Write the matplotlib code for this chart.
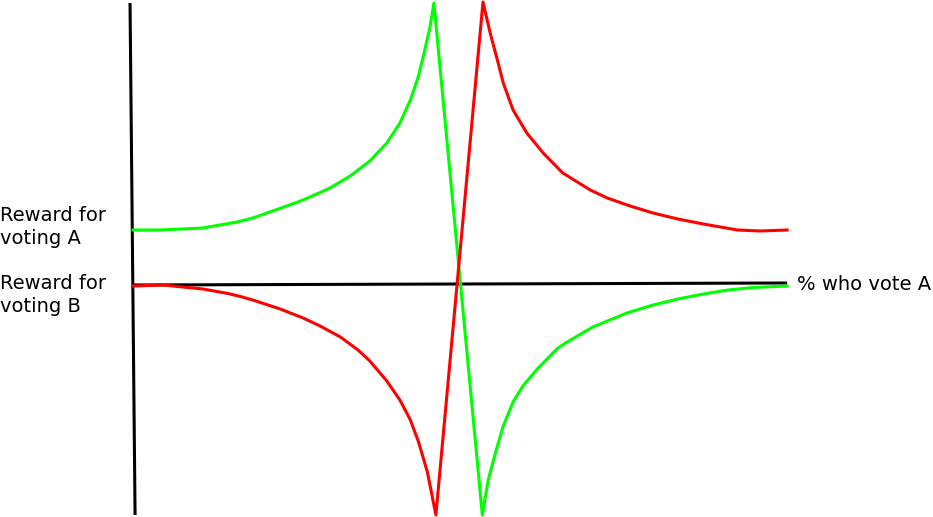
import numpy as np
import matplotlib
matplotlib.use("Agg")
import matplotlib.pyplot as plt

# % who vote A (x) and reward (y, arbitrary units)
green_x = [0, 4.1, 7.5, 10.7, 13.3, 15.9, 18.3, 20.9, 23.5, 26.0, 28.1, 30.1, 33.2, 36.2, 38.8,
           40.8, 42.4, 43.6, 44.6, 45.4, 46.0,
           53.4, 54.3, 55.4, 56.6, 58.1, 59.6, 61.8, 64.8, 66.1, 70.3, 75.5, 79.5, 83.3,
           87.2, 91.0, 94.8, 100]
green_y = [0.55, 0.55, 0.56, 0.57, 0.60, 0.63, 0.67, 0.73, 0.79, 0.85, 0.91, 0.97, 1.09, 1.24, 1.42,
           1.62, 1.85, 2.08, 2.35, 2.58, 2.82,
           -2.30, -1.95, -1.68, -1.41, -1.17, -1.01, -0.84, -0.64, -0.58, -0.42, -0.28, -0.20, -0.14,
           -0.09, -0.05, -0.025, -0.01]

red_x = [0, 4.6, 7.6, 10.7, 14.5, 16.4, 18.3, 22.5, 26.0, 28.6, 31.7, 34.4, 36.2, 38.8, 40.8, 42.4, 43.6,
         45.0, 46.3,
         53.5, 54.6, 55.7, 56.6, 58.1, 60.2, 62.7, 65.7, 69.9, 72.5, 76.0, 79.5, 83.3,
         87.2, 92.4, 95.9, 100]
red_y = [-0.01, 0.0, -0.02, -0.04, -0.085, -0.115, -0.15, -0.24, -0.33, -0.41, -0.52, -0.65, -0.76, -0.96, -1.15, -1.35, -1.56,
         -1.87, -2.30,
         2.83, 2.52, 2.25, 2.02, 1.75, 1.52, 1.32, 1.12, 0.95, 0.87, 0.79, 0.72, 0.66,
         0.61, 0.55, 0.54, 0.55]

# hand drawn axes
yaxis_x = [-0.46, 0.31]
yaxis_y = [2.82, -2.30]
xaxis_x = [0, 100]
xaxis_y = [0.0, 0.02]

fig = plt.figure(figsize=(9.33, 5.17), dpi=100)
ax = fig.add_axes([0, 0, 1, 1])
ax.set_xlim(-20.34, 122.3)
ax.set_ylim(-2.32, 2.85)
ax.axis('off')

# axes lines
ax.plot(yaxis_x, yaxis_y, color='black', lw=2.2, solid_capstyle='butt')
ax.plot(xaxis_x, xaxis_y, color='black', lw=2.2, solid_capstyle='butt')

# the two reward curves
ax.plot(green_x, green_y, color='#00ff00', lw=2.2, solid_joinstyle='round')
ax.plot(red_x, red_y, color='#ff0000', lw=2.2, solid_joinstyle='round')

# labels
ax.text(-20.3, 0.58, 'Reward for\nvoting A', fontsize=14, ha='left', va='center', linespacing=1.25)
ax.text(-20.3, -0.10, 'Reward for\nvoting B', fontsize=14, ha='left', va='center', linespacing=1.25)
ax.text(101.5, 0.0, '% who vote A', fontsize=14, ha='left', va='center')

fig.savefig('out.png', dpi=100)
